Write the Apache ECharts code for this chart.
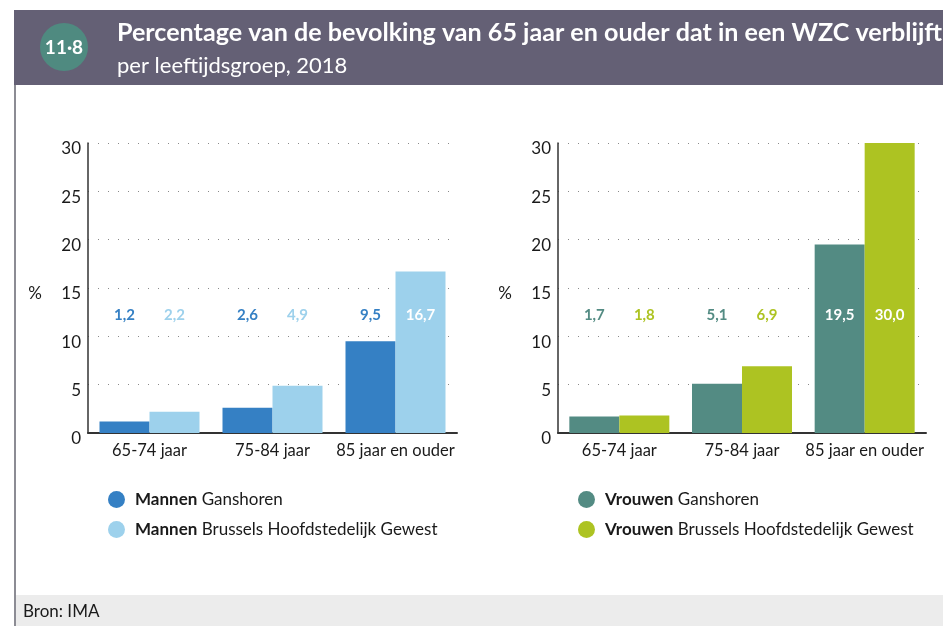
<!DOCTYPE html>
<html>
<head>
<meta charset="utf-8">
<script src="https://cdn.jsdelivr.net/npm/echarts@6/dist/echarts.min.js"></script>
<style>
  html, body { margin: 0; padding: 0; background: #fff; }
  #chart { width: 943px; height: 626px; }
</style>
</head>
<body>
<div id="chart"></div>
<script>
// Age groups on the x axis
const categories = ['65-74 jaar', '75-84 jaar', '85 jaar en ouder'];

// Share (%) of residents aged 65+ living in a WZC, 2018
const mannenGanshoren = [1.2, 2.6, 9.5];
const mannenBrussel = [2.2, 4.9, 16.7];
const vrouwenGanshoren = [1.7, 5.1, 19.5];
const vrouwenBrussel = [1.8, 6.9, 30.0];

// Value axis ticks
const yTicks = [0, 5, 10, 15, 20, 25, 30];

const seriesNames = [
  'Mannen Ganshoren',
  'Mannen Brussels Hoofdstedelijk Gewest',
  'Vrouwen Ganshoren',
  'Vrouwen Brussels Hoofdstedelijk Gewest'
];

const colors = ['#3580c4', '#9dd1ec', '#538b83', '#adc322'];
const FONT = 'Lato, "Open Sans", sans-serif';

// value labels sit on one common line, at this level of the value axis
const LABEL_LEVEL = 12.2;

function fmt(v) {
  return v.toFixed(1).replace('.', ',');
}

function barSeries(idx, values, axisIndex) {
  return {
    name: seriesNames[idx],
    type: 'bar',
    xAxisIndex: axisIndex,
    yAxisIndex: axisIndex,
    barWidth: 50,
    barGap: '0%',
    itemStyle: { color: colors[idx] },
    data: values.map(v => ({
      value: v,
      label: { color: v > LABEL_LEVEL ? '#ffffff' : colors[idx] }
    })),
    label: {
      show: true,
      position: 'insideBottom',
      distance: 0,
      offset: [0, -110],
      fontFamily: FONT,
      fontWeight: 'bold',
      fontSize: 15,
      formatter: p => fmt(p.value)
    }
  };
}

function yAxis(gridIndex) {
  return {
    type: 'value',
    gridIndex: gridIndex,
    min: yTicks[0],
    max: yTicks[yTicks.length - 1],
    interval: yTicks[1] - yTicks[0],
    name: '%',
    nameLocation: 'middle',
    nameRotate: 0,
    nameGap: 46,
    nameTextStyle: { fontFamily: FONT, fontSize: 17, color: '#1a1a1a', verticalAlign: 'top', lineHeight: 12 },
    axisLine: { show: true, lineStyle: { color: '#333', width: 1.5 } },
    axisTick: { show: false },
    axisLabel: { fontFamily: FONT, fontSize: 17, color: '#1a1a1a', margin: 7, verticalAlign: 'top', lineHeight: 12 },
    splitLine: { show: true, lineStyle: { color: '#8a8a8a', type: [1, 9], width: 1.2 } }
  };
}

function xAxis(gridIndex) {
  return {
    type: 'category',
    gridIndex: gridIndex,
    data: categories,
    axisLine: { show: true, lineStyle: { color: '#333', width: 2 } },
    axisTick: { show: false },
    axisLabel: { fontFamily: FONT, fontSize: 16.5, color: '#1a1a1a', margin: 9, interval: 0 }
  };
}

function legendFormatter(name) {
  const i = name.indexOf(' ');
  return '{b|' + name.slice(0, i) + '} ' + name.slice(i + 1);
}

function legend(names, left) {
  return {
    data: names,
    orient: 'vertical',
    left: left,
    top: 486,
    icon: 'circle',
    itemWidth: 17,
    itemHeight: 17,
    itemGap: 13,
    formatter: legendFormatter,
    selectedMode: false,
    textStyle: {
      fontFamily: FONT,
      fontSize: 17,
      color: '#1a1a1a',
      padding: [0, 0, 0, 5],
      rich: {
        b: { fontFamily: FONT, fontSize: 17, fontWeight: 'bold', color: '#1a1a1a' }
      }
    }
  };
}

const chart = echarts.init(document.getElementById('chart'), null, { renderer: 'canvas' });

chart.setOption({
  animation: false,
  backgroundColor: '#ffffff',
  grid: [
    { left: 88, top: 143, width: 369, height: 290 },
    { left: 558, top: 143, width: 368, height: 290 }
  ],
  xAxis: [xAxis(0), xAxis(1)],
  yAxis: [yAxis(0), yAxis(1)],
  legend: [
    legend(seriesNames.slice(0, 2), 103),
    legend(seriesNames.slice(2, 4), 573)
  ],
  series: [
    barSeries(0, mannenGanshoren, 0),
    barSeries(1, mannenBrussel, 0),
    barSeries(2, vrouwenGanshoren, 1),
    barSeries(3, vrouwenBrussel, 1)
  ],
  graphic: [
    // header band
    { type: 'rect', shape: { x: 14, y: 10, width: 929, height: 75 }, style: { fill: '#646075' }, z: 0 },
    { type: 'circle', shape: { cx: 64, cy: 47, r: 24 }, style: { fill: '#4f8a80' }, z: 1 },
    {
      type: 'text', x: 64, y: 48, z: 2,
      style: { text: '11·8', fill: '#fff', font: 'bold 19px ' + FONT, align: 'center', verticalAlign: 'middle' }
    },
    {
      type: 'text', x: 117, y: 33, z: 2,
      style: {
        text: 'Percentage van de bevolking van 65 jaar en ouder dat in een WZC verblijft',
        fill: '#fff', font: 'bold 25.1px ' + FONT, verticalAlign: 'middle'
      }
    },
    {
      type: 'text', x: 117, y: 66, z: 2,
      style: { text: 'per leeftijdsgroep, 2018', fill: '#fff', font: '22px ' + FONT, verticalAlign: 'middle' }
    },
    // left frame line
    { type: 'line', shape: { x1: 15, y1: 85, x2: 15, y2: 626 }, style: { stroke: '#8c8c94', lineWidth: 2 }, z: 1 },
    // footer band
    { type: 'rect', shape: { x: 16, y: 595, width: 927, height: 31 }, style: { fill: '#ececec' }, z: 0 },
    {
      type: 'text', x: 23, y: 612, z: 2,
      style: { text: 'Bron: IMA', fill: '#1a1a1a', font: '17px ' + FONT, verticalAlign: 'middle' }
    }
  ]
});
</script>
</body>
</html>
